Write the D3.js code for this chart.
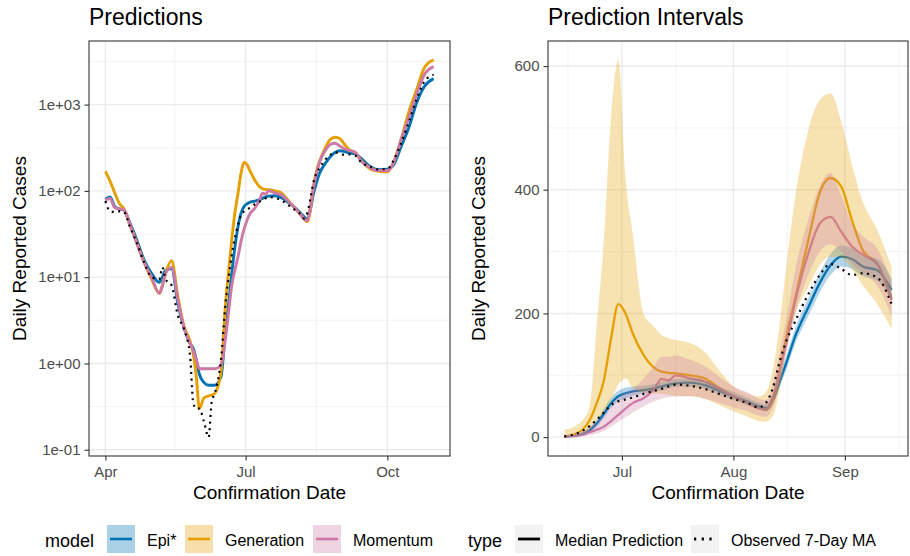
<!DOCTYPE html>
<html>
<head>
<meta charset="utf-8">
<script src="https://cdn.jsdelivr.net/npm/d3@7"></script>
<style>
body { margin: 0; background: #fff; }
</style>
</head>
<body>
<div id="chart"></div>
<script>
//Data (medians for the whole period, intervals for Jun-Sep)
const dates = ['2020-04-01','2020-04-04','2020-04-07','2020-04-10','2020-04-13','2020-04-17','2020-04-21','2020-04-26',
  '2020-05-01','2020-05-06','2020-05-08','2020-05-10','2020-05-14','2020-05-18','2020-05-22','2020-05-26','2020-05-28','2020-05-30',
  '2020-06-01','2020-06-04','2020-06-07','2020-06-09','2020-06-11','2020-06-15','2020-06-18','2020-06-20','2020-06-22','2020-06-24','2020-06-26','2020-06-28','2020-06-30',
  '2020-07-02','2020-07-04','2020-07-07','2020-07-10','2020-07-12','2020-07-14','2020-07-16','2020-07-20','2020-07-24','2020-07-28',
  '2020-08-01','2020-08-05','2020-08-08','2020-08-10','2020-08-12','2020-08-14','2020-08-16','2020-08-18','2020-08-22','2020-08-25','2020-08-28','2020-08-31',
  '2020-09-03','2020-09-06','2020-09-10','2020-09-14','2020-09-20','2020-09-25',
  '2020-10-01','2020-10-05','2020-10-10','2020-10-15','2020-10-20','2020-10-25','2020-10-31'];

const epi = [80, 85, 66, 62, 60, 42, 28, 16,
  11, 8.7, 10, 12, 12.5, 5, 2.6, 1.7, 1.5, 1.1,
  0.75, 0.6, 0.56, 0.56, 0.56, 0.7, 2.5, 5, 11, 22, 38, 55, 66,
  71, 74, 76, 79, 82, 85, 87, 88, 84, 75,
  66, 57, 50, 47, 60, 92, 125, 160, 212, 249, 278, 292,
  288, 276, 270, 238, 190, 176,
  178, 200, 330, 545, 1050, 1620, 2000];

const gen = [168, 130, 95, 72, 62, 40, 26, 15,
  9.5, 6.5, 8, 11, 15.5, 6, 2.7, 1.8, 1.3, 0.7,
  0.3, 0.4, 0.42, 0.43, 0.45, 0.8, 5, 12, 27, 55, 92, 160, 215,
  200, 168, 133, 112, 106, 104, 103, 100, 95, 80,
  66, 55, 47, 44, 60, 110, 170, 220, 323, 395, 419, 405,
  350, 302, 280, 225, 180, 170,
  166, 215, 400, 830, 1490, 2680, 3300];

const mom = [78, 82, 64, 62, 60, 40, 26, 15,
  10, 6.5, 8, 11, 13, 5.5, 2.6, 1.7, 1.4, 1.1,
  0.87, 0.87, 0.87, 0.87, 0.87, 0.95, 2, 4, 8, 12, 17, 26, 36,
  46, 55, 63, 78, 94, 92, 100, 95, 90, 78,
  66, 55, 47, 45, 65, 110, 160, 215, 300, 345, 356, 332,
  308, 295, 280, 222, 185, 172,
  172, 210, 395, 710, 1310, 2220, 2750];

const obs = [76, 58, 57, 58, 57, 38, 26, 15,
  10, 9.5, 13, 9.5, 8, 3.6, 2.5, 1.2, 0.35, 0.3,
  0.3, 0.21, 0.14, 0.36, 0.45, 1.1, 5, 10, 18, 28, 40, 52, 58,
  61, 64, 70, 75, 78, 82, 85, 83, 78, 70,
  62, 55, 48, 55, 80, 125, 160, 185, 233, 262, 280, 272,
  262, 265, 258, 215, 190, 178,
  180, 225, 360, 630, 1150, 1850, 2220];

const bandDates = ['2020-06-15','2020-06-18','2020-06-20','2020-06-22','2020-06-24','2020-06-26','2020-06-28','2020-06-30',
  '2020-07-02','2020-07-04','2020-07-07','2020-07-10','2020-07-12','2020-07-14','2020-07-16','2020-07-20','2020-07-24','2020-07-28',
  '2020-08-01','2020-08-05','2020-08-08','2020-08-10','2020-08-12','2020-08-14','2020-08-16','2020-08-18','2020-08-22','2020-08-25','2020-08-28','2020-08-31',
  '2020-09-03','2020-09-06','2020-09-10','2020-09-14'];

const epiLo = [0,1,3,8,17,31,47,58, 63,67,70,73,76,79,81,82,78,69, 60,51,45,42,53,83,114,148,198,234,262,276, 272,260,253,220];
const epiHi = [2,4,8,15,28,46,64,75, 80,82,83,86,89,92,94,95,91,82, 73,63,56,53,68,102,137,173,227,265,296,310, 305,292,288,256];
const genLo = [0,2,5,12,27,40,60,85, 95,80,72,70,70,68,66,66,62,52, 42,33,26,25,35,80,150,195,245,278,292,290, 272,245,215,175];
const genHi = [12,18,27,50,180,320,520,610, 420,330,200,178,165,160,157,152,138,108, 82,70,66,72,110,190,290,380,500,545,556,510, 440,380,335,275];
const momLo = [0,0,1,3,6,10,17,25, 32,40,50,58,62,65,66,66,62,55, 48,42,35,33,48,90,145,195,265,300,312,300, 280,265,245,195];
const momHi = [3,6,10,17,25,35,50,65, 72,78,95,115,130,130,132,125,115,98, 82,72,62,60,85,140,200,265,355,405,427,390, 345,325,305,250];

const models = ['Epi*', 'Generation', 'Momentum'];
const types = ['Median Prediction', 'Observed 7-Day MA'];

//Tick labels
const leftXTicks = ['2020-04-01', '2020-07-01', '2020-10-01'];
const leftXMinor = ['2020-05-16', '2020-08-16'];
const leftYTicks = [0.1, 1, 10, 100, 1000];
const rightXTicks = ['2020-07-01', '2020-08-01', '2020-09-01'];
const rightXMinor = ['2020-06-16', '2020-07-16', '2020-08-16', '2020-09-16'];
const rightYTicks = [0, 200, 400, 600];
const rightYMinor = [100, 300, 500];

//Colours (colour blind palette)
const colours = {'Epi*': '#0072B2', 'Generation': '#E69F00', 'Momentum': '#CC79A7'};
const FONT = '"Liberation Sans", Arial, Helvetica, sans-serif';

const parseDate = d3.timeParse('%Y-%m-%d');

const svg = d3.select('#chart')
.append('svg')
.attr('width', 910)
.attr('height', 556)
.style('font-family', FONT);

const LEFT = {x0: 89, x1: 450, y0: 41, y1: 456};
const RIGHT = {x0: 548, x1: 908, y0: 41, y1: 456};

//ggplot style 5% expansion
function pad(ext, f) {
    const d = (ext[1] - ext[0]) * f;
    return [ext[0] - d, ext[1] + d];
}

function rows(dts, vals) {
    return dts.map((d, i) => ({date: parseDate(d), v: vals[i]}));
}

//----- Left panel (log scale) -----
const allDates = dates.map(parseDate);
const leftX = d3.scaleTime()
.domain(pad(d3.extent(allDates).map(d => +d), 0.05).map(t => new Date(t)))
.range([LEFT.x0, LEFT.x1]);

const logExt = pad(d3.extent(epi.concat(gen, mom, obs)).map(Math.log10), 0.05);
const leftY = d3.scaleLog()
.domain(logExt.map(v => Math.pow(10, v)))
.range([LEFT.y1, LEFT.y0]);

//----- Right panel (linear) -----
const start = parseDate(bandDates[0]);
const end = parseDate(bandDates[bandDates.length - 1]);
const rightX = d3.scaleTime()
.domain(pad([+start, +end], 0.05).map(t => new Date(t)))
.range([RIGHT.x0, RIGHT.x1]);

const rightY = d3.scaleLinear()
.domain(pad([0, d3.max(genHi)], 0.05))
.range([RIGHT.y1, RIGHT.y0]);

function drawGrid(p, x, y, xMaj, xMin, yMaj, yMin) {
    const g = svg.append('g');
    g.selectAll().data(xMin).enter().append('line')
    .attr('x1', d => x(d)).attr('x2', d => x(d)).attr('y1', p.y0).attr('y2', p.y1)
    .attr('stroke', '#f0f0f0').attr('stroke-width', 0.8);
    g.selectAll().data(yMin).enter().append('line')
    .attr('y1', d => y(d)).attr('y2', d => y(d)).attr('x1', p.x0).attr('x2', p.x1)
    .attr('stroke', '#f0f0f0').attr('stroke-width', 0.8);
    g.selectAll().data(xMaj).enter().append('line')
    .attr('x1', d => x(d)).attr('x2', d => x(d)).attr('y1', p.y0).attr('y2', p.y1)
    .attr('stroke', '#ebebeb').attr('stroke-width', 1.4);
    g.selectAll().data(yMaj).enter().append('line')
    .attr('y1', d => y(d)).attr('y2', d => y(d)).attr('x1', p.x0).attr('x2', p.x1)
    .attr('stroke', '#ebebeb').attr('stroke-width', 1.4);
}

//log minor breaks sit halfway between decades
const leftYMinor = leftYTicks.slice(0, -1).map((d, i) => Math.sqrt(d * leftYTicks[i + 1]))
.concat([Math.sqrt(1000 * 10000)]);

drawGrid(LEFT, leftX, leftY, leftXTicks.map(parseDate), leftXMinor.map(parseDate), leftYTicks, leftYMinor);
drawGrid(RIGHT, rightX, rightY, rightXTicks.map(parseDate), rightXMinor.map(parseDate), rightYTicks, rightYMinor);

//----- Left lines -----
const leftLine = d3.line()
.x(d => leftX(d.date))
.y(d => leftY(d.v))
.curve(d3.curveMonotoneX);

const leftSeries = [[epi, colours['Epi*']], [gen, colours['Generation']], [mom, colours['Momentum']]];
leftSeries.forEach(s => {
    svg.append('path')
    .datum(rows(dates, s[0]))
    .attr('d', leftLine)
    .attr('fill', 'none')
    .attr('stroke', s[1])
    .attr('stroke-width', 2.9);
});

svg.append('path')
.datum(rows(dates, obs))
.attr('d', leftLine)
.attr('fill', 'none')
.attr('stroke', '#000')
.attr('stroke-width', 2.2)
.attr('stroke-dasharray', '2,4.5');

//----- Right lines and intervals -----
const inRange = d => d.date >= start && d.date <= end;
const rightLine = d3.line()
.x(d => rightX(d.date))
.y(d => rightY(d.v))
.curve(d3.curveMonotoneX);

leftSeries.forEach(s => {
    svg.append('path')
    .datum(rows(dates, s[0]).filter(inRange))
    .attr('d', rightLine)
    .attr('fill', 'none')
    .attr('stroke', s[1])
    .attr('stroke-width', 2.3);
});

const ribbon = d3.area()
.x(d => rightX(d.date))
.y0(d => rightY(d.lo))
.y1(d => rightY(d.hi))
.curve(d3.curveMonotoneX);

const bands = [[epiLo, epiHi, colours['Epi*']], [genLo, genHi, colours['Generation']], [momLo, momHi, colours['Momentum']]];
bands.forEach(b => {
    svg.append('path')
    .datum(bandDates.map((d, i) => ({date: parseDate(d), lo: b[0][i], hi: b[1][i]})))
    .attr('d', ribbon)
    .attr('fill', b[2])
    .attr('fill-opacity', 0.3);
});

svg.append('path')
.datum(rows(dates, obs).filter(inRange))
.attr('d', rightLine)
.attr('fill', 'none')
.attr('stroke', '#000')
.attr('stroke-width', 2.2)
.attr('stroke-dasharray', '2,4.5');

//----- Panel borders -----
[LEFT, RIGHT].forEach(p => {
    svg.append('rect')
    .attr('x', p.x0).attr('y', p.y0)
    .attr('width', p.x1 - p.x0).attr('height', p.y1 - p.y0)
    .attr('fill', 'none')
    .attr('stroke', '#333')
    .attr('stroke-width', 1.1);
});

//----- Axes -----
function styleAxis(g) {
    g.attr('font-family', FONT).attr('font-size', 15);
    g.select('.domain').remove();
    g.selectAll('.tick line').attr('stroke', '#333').attr('stroke-width', 1.1);
    g.selectAll('.tick text').attr('fill', '#4d4d4d');
}

function sciLabel(d) {
    const e = Math.round(Math.log10(d));
    return '1e' + (e < 0 ? '-' : '+') + String(Math.abs(e)).padStart(2, '0');
}

svg.append('g')
.attr('transform', `translate(0,${LEFT.y1})`)
.call(d3.axisBottom(leftX).tickValues(leftXTicks.map(parseDate)).tickFormat(d3.timeFormat('%b')).tickSize(4.5).tickPadding(6))
.call(styleAxis);

svg.append('g')
.attr('transform', `translate(${LEFT.x0},0)`)
.call(d3.axisLeft(leftY).tickValues(leftYTicks).tickFormat(sciLabel).tickSize(4.5).tickPadding(4))
.call(styleAxis);

svg.append('g')
.attr('transform', `translate(0,${RIGHT.y1})`)
.call(d3.axisBottom(rightX).tickValues(rightXTicks.map(parseDate)).tickFormat(d3.timeFormat('%b')).tickSize(4.5).tickPadding(6))
.call(styleAxis);

svg.append('g')
.attr('transform', `translate(${RIGHT.x0},0)`)
.call(d3.axisLeft(rightY).tickValues(rightYTicks).tickFormat(d3.format('d')).tickSize(4.5).tickPadding(4))
.call(styleAxis);

//----- Titles -----
const titles = [[LEFT, 'Predictions', 26], [RIGHT, 'Prediction Intervals', 485]];
titles.forEach(t => {
    const p = t[0];
    svg.append('text')
    .attr('x', p.x0).attr('y', 25)
    .attr('font-size', 23)
    .text(t[1]);

    svg.append('text')
    .attr('x', (p.x0 + p.x1) / 2).attr('y', 499)
    .attr('text-anchor', 'middle')
    .attr('font-size', 19)
    .text('Confirmation Date');

    svg.append('text')
    .attr('transform', `translate(${t[2]},${(p.y0 + p.y1) / 2}) rotate(-90)`)
    .attr('text-anchor', 'middle')
    .attr('font-size', 19)
    .text('Daily Reported Cases');
});

//----- Legends -----
const LEG_Y = 525;
const KEY = 28;

svg.append('text').attr('x', 45).attr('y', 547).attr('font-size', 18).text('model');
const modelKeyX = [107, 185, 313];
models.forEach((m, i) => {
    const x = modelKeyX[i];
    svg.append('rect').attr('x', x).attr('y', LEG_Y).attr('width', KEY).attr('height', KEY)
    .attr('fill', colours[m]).attr('fill-opacity', 0.33);
    svg.append('line').attr('x1', x + 3).attr('x2', x + KEY - 3)
    .attr('y1', LEG_Y + KEY / 2).attr('y2', LEG_Y + KEY / 2)
    .attr('stroke', colours[m]).attr('stroke-width', 2.6);
    svg.append('text').attr('x', x + KEY + 12).attr('y', 546).attr('font-size', 16).text(m);
});

svg.append('text').attr('x', 468).attr('y', 547).attr('font-size', 18).text('type');
const typeKeyX = [515, 691];
types.forEach((t, i) => {
    const x = typeKeyX[i];
    svg.append('rect').attr('x', x).attr('y', LEG_Y).attr('width', KEY).attr('height', KEY)
    .attr('fill', '#f2f2f2');
    svg.append('line').attr('x1', x + 3).attr('x2', x + KEY - 3)
    .attr('y1', LEG_Y + KEY / 2).attr('y2', LEG_Y + KEY / 2)
    .attr('stroke', '#000').attr('stroke-width', 2.8)
    .attr('stroke-dasharray', i == 1 ? '2.2,5.5' : null);
    svg.append('text').attr('x', x + KEY + 12).attr('y', 546).attr('font-size', 16).text(t);
});
</script>
</body>
</html>
